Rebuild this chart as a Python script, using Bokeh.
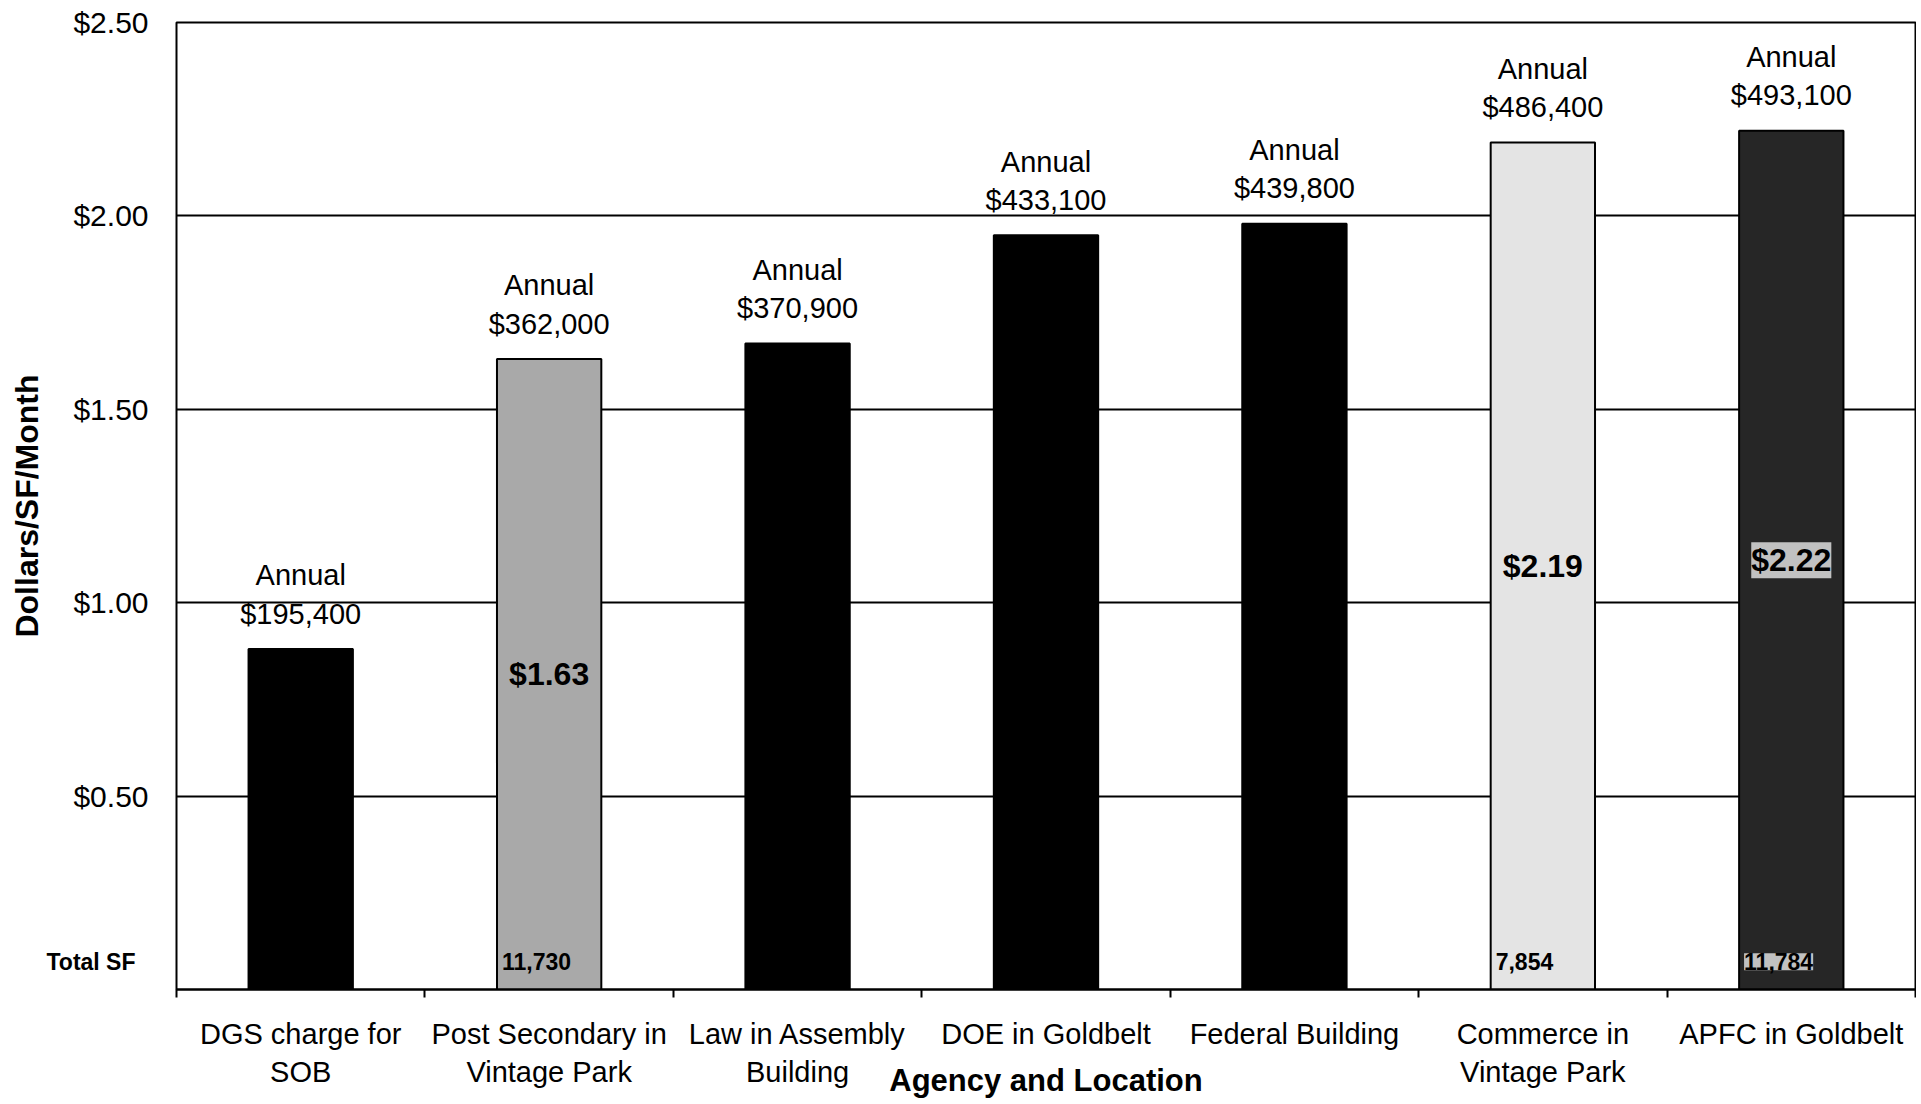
from bokeh.plotting import figure
from bokeh.models import (ColumnDataSource, Range1d, FixedTicker, NumeralTickFormatter, LinearAxis)
from bokeh.core.properties import value
from bokeh.embed import file_html
from bokeh.resources import INLINE

# ---- data ----
categories = ["DGS charge for\nSOB", "Post Secondary in\nVintage Park", "Law in Assembly\nBuilding",
              "DOE in Goldbelt", "Federal Building", "Commerce in\nVintage Park", "APFC in Goldbelt"]
rate = [0.88, 1.63, 1.67, 1.95, 1.98, 2.19, 2.22]
annual = ["$195,400", "$362,000", "$370,900", "$433,100", "$439,800", "$486,400", "$493,100"]
total_sf = ["", "11,730", "", "", "", "7,854", ""]
apfc_sf = ["", "", "", "", "", "", "11,784"]
rate_label = ["", "$1.63", "", "", "", "$2.19", ""]
apfc_rate_label = ["", "", "", "", "", "", "$2.22"]
fills = ["#000000", "#a9a9a9", "#000000", "#000000", "#000000", "#e4e4e4", "#262626"]
y_ticks = [0.5, 1.0, 1.5, 2.0, 2.5]
sf_row = 0.072

FONT = "Liberation Sans"
n = len(categories)
xs = [i + 0.5 for i in range(n)]
bar_w = 0.42

src = ColumnDataSource(dict(
    x=xs, top=rate, fill=fills,
    annual=["Annual\n" + a for a in annual],
    ann_y=[r + 0.05 for r in rate],
    mid=[r / 2 for r in rate],
    rate_label=rate_label, apfc_rate_label=apfc_rate_label,
    sf=total_sf, apfc_sf=apfc_sf,
    sf_x=[x - bar_w / 2 + 0.02 for x in xs],
    sf_y=[sf_row] * n,
))

p = figure(width=1916, height=1100, output_backend="svg", toolbar_location=None,
           x_range=Range1d(0, n), y_range=Range1d(0, 2.5),
           min_border_left=176, min_border_right=1, min_border_top=22, min_border_bottom=110,
           background_fill_color="white", border_fill_color="white")

p.outline_line_color = "black"
p.outline_line_width = 2

# grid
p.xgrid.grid_line_color = None
p.ygrid.ticker = FixedTicker(ticks=y_ticks)
p.ygrid.grid_line_color = "black"
p.ygrid.grid_line_width = 2

# bars
p.vbar(x="x", top="top", width=bar_w, bottom=0, source=src,
       fill_color="fill", line_color="black", line_width=2)

# annual labels above bars
p.text(x="x", y="ann_y", text="annual", source=src, text_align="center", text_baseline="bottom",
       text_font=value(FONT), text_font_size="29px", text_color="black", text_line_height=1.2)

# rate labels in the middle of patterned bars
p.text(x="x", y="mid", text="rate_label", source=src, text_align="center", text_baseline="middle",
       text_font=value(FONT), text_font_size="32px", text_font_style="bold", text_color="black")
p.text(x="x", y="mid", text="apfc_rate_label", source=src, text_align="center", text_baseline="middle",
       text_font=value(FONT), text_font_size="32px", text_font_style="bold", text_color="black",
       background_fill_color="#e8e8e8", background_fill_alpha=0.8)

# total SF labels at the bottom of bars
p.text(x="sf_x", y="sf_y", text="sf", source=src, text_align="left", text_baseline="middle",
       text_font=value(FONT), text_font_size="23px", text_font_style="bold", text_color="black")
p.text(x="sf_x", y="sf_y", text="apfc_sf", source=src, text_align="left", text_baseline="middle",
       text_font=value(FONT), text_font_size="23px", text_font_style="bold", text_color="black",
       background_fill_color="#e8e8e8", background_fill_alpha=0.8)

# main y axis (dollar ticks + title); the frame outline serves as its axis line
ya = p.left[0]
ya.ticker = FixedTicker(ticks=y_ticks)
ya.formatter = NumeralTickFormatter(format="$0.00")
ya.major_label_text_font = FONT
ya.major_label_text_font_size = "30px"
ya.major_label_text_color = "black"
ya.major_tick_out = 0
ya.major_tick_in = 0
ya.major_tick_line_color = None
ya.minor_tick_line_color = None
ya.axis_line_color = None
ya.axis_label = "Dollars/SF/Month"
ya.axis_label_text_font = FONT
ya.axis_label_text_font_size = "32px"
ya.axis_label_text_font_style = "bold"
ya.axis_label_text_color = "black"
ya.axis_label_standoff = 25

# inner label-only axis that carries the "Total SF" row label
sf_axis = LinearAxis(ticker=FixedTicker(ticks=[sf_row]),
                     major_label_overrides={sf_row: "Total SF"},
                     axis_line_color=None, major_tick_line_color=None, minor_tick_line_color=None,
                     major_tick_out=0, major_tick_in=0,
                     major_label_standoff=41, major_label_text_font=FONT,
                     major_label_text_font_size="23px", major_label_text_font_style="bold",
                     major_label_text_color="black")
p.left = [sf_axis, ya]
# pull the dollar labels back next to the frame, over the inner axis' empty space
ya.major_label_standoff = 27 - (41 + 91)

# x axis
p.xaxis.ticker = FixedTicker(ticks=xs, minor_ticks=list(range(n + 1)))
p.xaxis.major_label_overrides = {x: c for x, c in zip(xs, categories)}
p.xaxis.major_label_text_font = FONT
p.xaxis.major_label_text_font_size = "29px"
p.xaxis.major_label_text_color = "black"
p.xaxis.major_label_text_line_height = 1.2
p.xaxis.major_tick_line_color = None
p.xaxis.major_label_standoff = 20
p.xaxis.minor_tick_out = 8
p.xaxis.minor_tick_in = 0
p.xaxis.minor_tick_line_color = "black"
p.xaxis.minor_tick_line_width = 2
p.xaxis.axis_line_width = 2
p.xaxis.axis_line_color = "black"
p.xaxis.axis_label = "Agency and Location"
p.xaxis.axis_label_text_font = FONT
p.xaxis.axis_label_text_font_size = "31px"
p.xaxis.axis_label_text_font_style = "bold"
p.xaxis.axis_label_text_color = "black"
p.xaxis.axis_label_standoff = -28

open("out.html", "w").write(file_html(p, INLINE))
